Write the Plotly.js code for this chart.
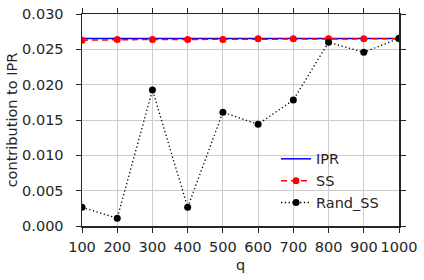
<!DOCTYPE html>
<html><head><meta charset="utf-8">
<script src="https://cdn.plot.ly/plotly-3.0.1.min.js"></script>
<style>html,body{margin:0;padding:0;background:#fff}#c{width:424px;height:280px}</style>
</head><body><div id="c"></div>
<script>
const q = [100, 200, 300, 400, 500, 600, 700, 800, 900, 1000];
const ipr = [0.02655, 0.02655, 0.02655, 0.02655, 0.02655, 0.02655, 0.02655, 0.02655, 0.02655, 0.02655];
const ss = [0.0263, 0.0264, 0.0264, 0.0264, 0.0264, 0.0265, 0.0265, 0.0265, 0.0265, 0.0265];
const randSS = [0.00265, 0.00109, 0.01925, 0.00265, 0.01609, 0.01439, 0.01783, 0.0260, 0.02458, 0.02656];
const yTicks = [0, 0.005, 0.010, 0.015, 0.020, 0.025, 0.030];

const font = {family: 'DejaVu Sans', size: 14.5, color: '#262626'};
const traces = [
  {x: q, y: ipr, name: 'IPR', mode: 'lines', line: {color: '#0000ff', width: 1.5}},
  {x: q, y: ss, name: 'SS', mode: 'lines+markers', line: {color: '#ff0000', width: 1.5, dash: '6px,4px'}, marker: {color: '#ff0000', size: 7}},
  {x: q, y: randSS, name: 'Rand_SS', mode: 'lines+markers', line: {color: '#000000', width: 1.3, dash: '1.3px,2.5px'}, marker: {color: '#000000', size: 7}}
];
const axisCommon = {
  showline: true, linecolor: '#262626', linewidth: 1.5, mirror: 'ticks',
  ticks: 'outside', ticklen: 5, tickcolor: '#262626', tickwidth: 1,
  showgrid: true, gridcolor: '#cccccc', gridwidth: 1, zeroline: false,
  tickfont: font
};
const layout = {
  width: 424, height: 280,
  margin: {l: 82, r: 25, t: 14, b: 54},
  paper_bgcolor: '#fff', plot_bgcolor: '#fff',
  font: font,
  showlegend: true,
  legend: {x: 0.612, y: 0.392, xanchor: 'left', yanchor: 'top', bgcolor: 'rgba(255,255,255,0)', font: font, tracegroupgap: 0},
  xaxis: Object.assign({}, axisCommon, {range: [100, 1000], tickvals: q, ticklabelstandoff: 2, title: {text: 'q', font: font, standoff: 6}}),
  yaxis: Object.assign({}, axisCommon, {range: [0, 0.030], tickvals: yTicks, tickformat: '.3f', ticklabelstandoff: 9, title: {text: 'contribution to IPR', font: font, standoff: 1}})
};
Plotly.newPlot('c', traces, layout, {displayModeBar: false, staticPlot: true});
</script></body></html>
